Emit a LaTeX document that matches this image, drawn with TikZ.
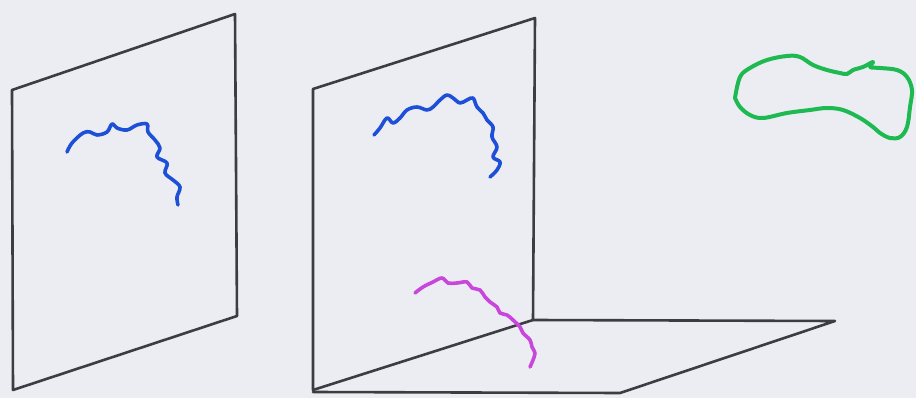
\documentclass[tikz,border=0pt]{standalone}
\definecolor{bgc}{RGB}{236,237,243}
\definecolor{edge}{RGB}{60,60,66}
\definecolor{bluec}{RGB}{30,80,215}
\definecolor{magc}{RGB}{200,70,220}
\definecolor{greenc}{RGB}{30,185,80}
\tikzset{
  frame/.style={draw=edge, line width=2.6pt, line join=round, line cap=round},
  curve/.style={line width=3.6pt, line cap=round, line join=round, smooth, tension=0.6}
}
\begin{document}
\begin{tikzpicture}[x=1pt,y=-1pt]
\fill[bgc] (0,0) rectangle (916,398);
\useasboundingbox (0,0) rectangle (916,398);
% left panel
\coordinate (a1) at (12,90);
\coordinate (a2) at (235,14);
\coordinate (a3) at (237,316);
\coordinate (a4) at (13,390);
\draw[frame] (a1) -- (a2) -- (a3) -- (a4) -- cycle;
% middle panel
\coordinate (b1) at (313,89);
\coordinate (b2) at (535,18);
\coordinate (b3) at (533,320);
\coordinate (b4) at (313,390);
\draw[frame] (b1) -- (b2) -- (b3) -- (b4) -- cycle;
% floor
\coordinate (c1) at (835,321);
\coordinate (c2) at (620,393);
\coordinate (c3) at (313,392);
\draw[frame] (b3) -- (c1) -- (c2) -- (c3);
% blue curve left
\draw[curve, draw=bluec] plot coordinates {(67,152) (72,143) (83,133) (90,132) (97,135) (107,132) (112,124) (117,128) (127,130) (137,125) (147,124) (148,132) (155,140) (160,148) (157,157) (167,163) (165,173) (173,180) (180,187) (177,197) (178,205)};
% blue curve middle
\draw[curve, draw=bluec] plot coordinates {(374,135) (380,128) (387,118) (393,123) (400,118) (407,110) (417,107) (427,110) (433,107) (440,100) (447,95) (453,98) (460,103) (467,100) (473,98) (477,107) (483,113) (487,120) (493,127) (492,137) (497,147) (493,157) (500,162) (497,170) (490,177)};
% magenta curve
\draw[curve, draw=magc] plot coordinates {(415,293) (423,287) (433,282) (442,278) (448,283) (457,283) (467,282) (472,288) (480,290) (485,297) (490,302) (497,307) (500,313) (507,315) (513,320) (520,327) (523,333) (530,340) (532,347) (535,353) (533,360) (530,367)};
% green loop
\draw[curve, draw=greenc, line width=4pt] plot coordinates {(735,98) (740,77) (750,68) (767,60) (787,56) (800,57) (813,65) (827,70) (840,73) (847,74) (853,70) (863,67) (873,62) (870,67) (880,68) (897,70) (907,77) (912,90) (910,107) (907,127) (900,137) (890,138) (880,133) (873,127) (860,118) (843,110) (827,108) (810,110) (787,113) (763,118) (750,115) (740,107) (735,98)};
\end{tikzpicture}
\end{document}
